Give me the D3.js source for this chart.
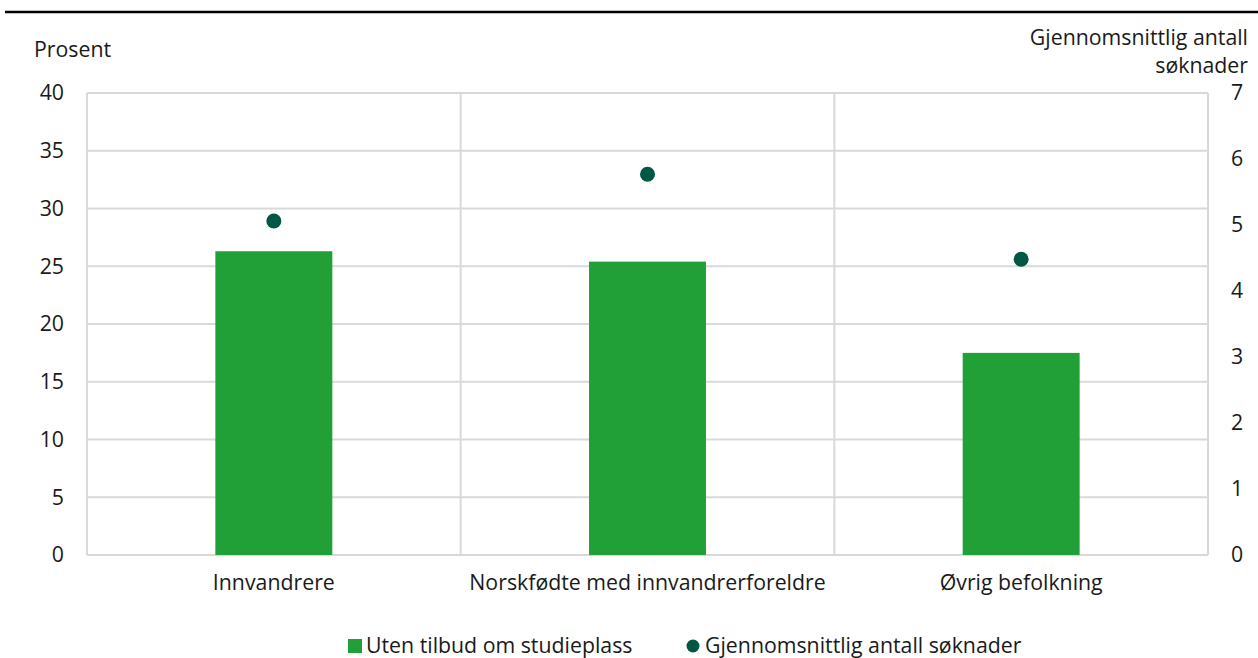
<!DOCTYPE html>
<html><head><meta charset="utf-8">
<script src="https://cdn.jsdelivr.net/npm/d3@7"></script>
<style>body{margin:0;background:#fff;} svg{display:block;font-family:"Open Sans",sans-serif;}</style>
</head><body>
<svg id="c" width="1258" height="658"></svg>
<script>
const categories = ["Innvandrere", "Norskfødte med innvandrerforeldre", "Øvrig befolkning"];
const utenTilbud = [26.3, 25.4, 17.5];
const snittSoknader = [5.06, 5.77, 4.48];
const leftTicks = [0, 5, 10, 15, 20, 25, 30, 35, 40];
const rightTicks = [0, 1, 2, 3, 4, 5, 6, 7];
const seriesNames = ["Uten tilbud om studieplass", "Gjennomsnittlig antall søknader"];

const svg = d3.select("#c");
const L = 87, R = 1208, T = 93, B = 555;
const FS = 21.3;
const txt = "#1a1a1a";
const barColor = "#21a038", dotColor = "#005744", gridColor = "#d9d9d9";

svg.append("line").attr("x1", 5).attr("x2", 1258).attr("y1", 12).attr("y2", 12)
  .attr("stroke", "#000").attr("stroke-width", 2.5);

const x = d3.scaleBand().domain(categories).range([L, R]);
const yL = d3.scaleLinear().domain([0, 40]).range([B, T]);
const yR = d3.scaleLinear().domain([0, 7]).range([B, T]);

svg.append("g").selectAll("line").data(leftTicks).join("line")
  .attr("x1", L).attr("x2", R).attr("y1", d => yL(d)).attr("y2", d => yL(d))
  .attr("stroke", gridColor).attr("stroke-width", 2);
const bounds = categories.map(c => x(c)).concat([R]);
svg.append("g").selectAll("line").data(bounds).join("line")
  .attr("x1", d => d).attr("x2", d => d).attr("y1", T).attr("y2", B)
  .attr("stroke", gridColor).attr("stroke-width", 2);

const bw = x.bandwidth() * 0.313;
svg.append("g").selectAll("rect").data(utenTilbud).join("rect")
  .attr("x", (d, i) => x(categories[i]) + x.bandwidth() / 2 - bw / 2)
  .attr("width", bw)
  .attr("y", d => yL(d)).attr("height", d => B - yL(d))
  .attr("fill", barColor);

svg.append("g").selectAll("circle").data(snittSoknader).join("circle")
  .attr("cx", (d, i) => x(categories[i]) + x.bandwidth() / 2)
  .attr("cy", d => yR(d)).attr("r", 7.5).attr("fill", dotColor);

const la = svg.append("g").attr("transform", `translate(${L},0)`)
  .call(d3.axisLeft(yL).tickValues(leftTicks).tickFormat(d3.format("d")).tickSize(0).tickPadding(23));
la.select(".domain").remove();
la.selectAll("text").attr("font-size", FS).attr("fill", txt).attr("font-family", "Open Sans");

const ra = svg.append("g").attr("transform", `translate(${R},0)`)
  .call(d3.axisRight(yR).tickValues(rightTicks).tickFormat(d3.format("d")).tickSize(0).tickPadding(23));
ra.select(".domain").remove();
ra.selectAll("text").attr("font-size", FS).attr("fill", txt).attr("font-family", "Open Sans");

const xa = svg.append("g").attr("transform", `translate(0,${B})`)
  .call(d3.axisBottom(x).tickSize(0).tickPadding(20));
xa.select(".domain").remove();
xa.selectAll("text").attr("font-size", FS).attr("fill", txt).attr("font-family", "Open Sans");

svg.append("text").attr("x", 34).attr("y", 57).attr("font-size", FS).attr("fill", txt).text("Prosent");
svg.append("text").attr("x", 1248).attr("y", 45).attr("text-anchor", "end").attr("font-size", FS).attr("fill", txt).text("Gjennomsnittlig antall");
svg.append("text").attr("x", 1248).attr("y", 73).attr("text-anchor", "end").attr("font-size", FS).attr("fill", txt).text("søknader");

const lg = svg.append("g");
lg.append("rect").attr("x", 348).attr("y", 639).attr("width", 14).attr("height", 14).attr("fill", barColor);
lg.append("text").attr("x", 366).attr("y", 653).attr("font-size", FS).attr("fill", txt).text(seriesNames[0]);
lg.append("circle").attr("cx", 693).attr("cy", 646).attr("r", 6.5).attr("fill", dotColor);
lg.append("text").attr("x", 705).attr("y", 653).attr("font-size", FS).attr("fill", txt).text(seriesNames[1]);
</script>
</body></html>
